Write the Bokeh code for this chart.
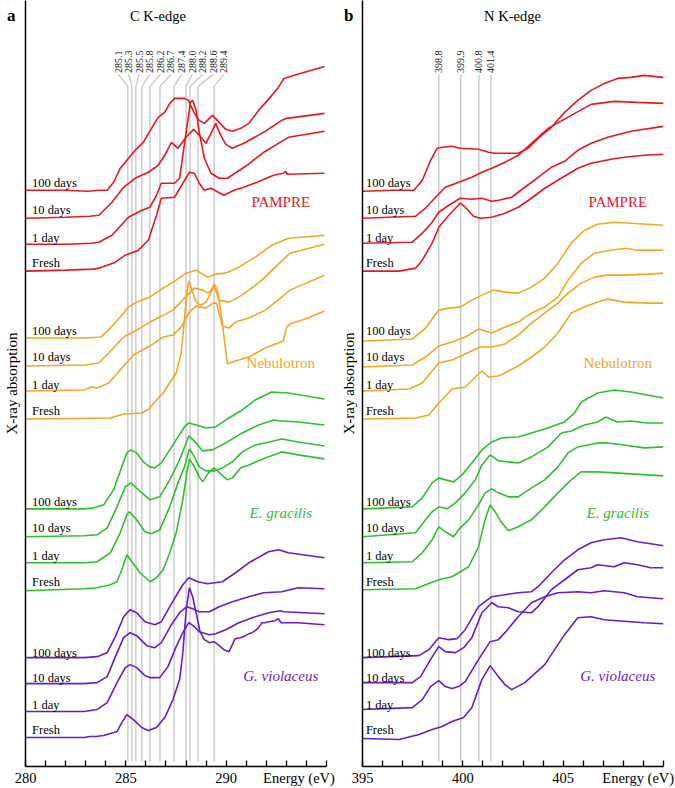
import math
from bokeh.plotting import figure
from bokeh.models import Range1d, FixedTicker, Label
from bokeh.layouts import row
from bokeh.embed import file_html
from bokeh.resources import INLINE

# ---------------- data : C K-edge (energy eV, stacked absorption a.u.) ----------------
c_pampre_100 = [(280.0,5.77),(282.0,5.77),(283.1,5.76),(283.66,5.77),(284.07,5.77),(284.39,5.85),(284.72,5.99),(285.05,6.07),(285.46,6.17),(285.87,6.25),(286.28,6.39),(286.61,6.50),(286.94,6.55),(287.19,6.64),(287.43,6.69),(287.92,6.69),(288.12,6.67),(288.42,6.54),(288.66,6.47),(288.91,6.44),(289.32,6.52),(289.65,6.45),(289.98,6.38),(290.31,6.36),(290.72,6.39),(291.13,6.44),(291.70,6.59),(292.19,6.70),(292.60,6.80),(292.88,6.89),(293.51,6.93),(294.90,7.01)]
c_pampre_10 = [(280.0,5.49),(282.0,5.50),(283.2,5.51),(283.66,5.52),(284.31,5.65),(284.89,5.80),(285.46,5.89),(286.12,5.95),(286.61,6.02),(286.94,6.12),(287.27,6.25),(287.60,6.19),(288.00,6.30),(288.38,6.38),(288.66,6.32),(288.99,6.24),(289.24,6.34),(289.48,6.44),(289.73,6.32),(289.98,6.23),(290.31,6.19),(290.88,6.24),(291.86,6.35),(292.77,6.47),(293.01,6.49),(294.90,6.54)]
c_pampre_1 = [(280.0,5.23),(282.0,5.23),(283.3,5.24),(283.66,5.25),(284.31,5.32),(285.13,5.50),(285.79,5.57),(286.20,5.60),(286.53,5.72),(286.77,5.84),(287.43,5.84),(287.68,5.89),(287.96,6.29),(288.22,6.65),(288.33,6.67),(288.50,6.57),(288.66,6.35),(288.91,6.09),(289.24,5.94),(289.65,5.89),(290.06,5.89),(291.04,6.02),(291.87,6.15),(292.69,6.25),(293.10,6.30),(294.90,6.36)]
c_pampre_fresh = [(280.0,4.96),(282.0,4.97),(283.4,4.98),(283.66,4.99),(284.48,5.05),(284.97,5.12),(285.63,5.17),(286.12,5.27),(286.53,5.52),(286.77,5.69),(287.43,5.70),(287.84,5.84),(288.17,5.95),(288.42,5.94),(288.66,5.84),(288.91,5.77),(289.24,5.79),(289.89,5.72),(290.39,5.77),(290.88,5.80),(291.54,5.85),(292.36,5.92),(292.85,5.94),(292.95,5.96),(293.05,5.93),(294.90,5.94)]

c_neb_100 = [(280.0,4.29),(283.0,4.29),(283.75,4.30),(284.23,4.39),(284.72,4.50),(285.13,4.60),(285.54,4.65),(286.20,4.70),(286.86,4.79),(287.51,4.87),(288.01,4.94),(288.50,4.97),(289.07,4.90),(289.48,4.93),(289.98,4.94),(290.63,5.00),(291.45,5.10),(292.28,5.22),(293.10,5.29),(294.90,5.32)]
c_neb_10 = [(280.0,4.01),(283.0,4.02),(283.65,4.04),(284.15,4.14),(284.89,4.30),(285.54,4.37),(286.20,4.45),(286.69,4.50),(287.35,4.57),(287.92,4.69),(288.42,4.79),(288.83,4.77),(289.12,4.74),(289.40,4.81),(289.65,4.67),(290.14,4.65),(290.63,4.70),(291.13,4.77),(291.78,4.87),(292.44,5.00),(293.18,5.14),(294.90,5.23)]
c_neb_1 = [(280.0,3.76),(282.92,3.77),(283.3,3.80),(283.57,3.79),(284.15,3.84),(284.72,3.97),(285.38,4.12),(286.20,4.21),(286.86,4.30),(287.35,4.32),(287.76,4.40),(288.17,4.55),(288.50,4.61),(288.99,4.59),(289.35,4.64),(289.52,4.64),(289.81,4.41),(290.14,4.39),(290.47,4.45),(291.13,4.49),(291.95,4.57),(292.77,4.70),(293.18,4.77),(294.90,4.92)]
c_neb_fresh = [(280.0,3.48),(284.23,3.49),(284.89,3.53),(285.79,3.54),(286.15,3.58),(286.53,3.67),(286.86,3.74),(287.51,3.94),(287.76,4.14),(287.92,4.47),(288.04,4.74),(288.14,4.86),(288.33,4.75),(288.50,4.65),(288.74,4.62),(288.99,4.65),(289.24,4.74),(289.40,4.83),(289.57,4.77),(289.81,4.44),(290.06,4.03),(290.31,4.05),(291.13,4.10),(291.95,4.19),(292.85,4.26),(293.01,4.40),(293.18,4.43),(294.08,4.49),(294.90,4.56)]

c_eg_100 = [(280.0,2.58),(282.92,2.58),(283.41,2.59),(283.90,2.62),(284.39,2.77),(284.80,3.00),(285.05,3.14),(285.25,3.17),(285.54,3.14),(285.87,3.05),(286.20,3.00),(286.45,2.99),(286.77,3.04),(287.19,3.17),(287.60,3.30),(287.92,3.40),(288.14,3.44),(288.50,3.42),(288.99,3.39),(289.48,3.40),(290.14,3.49),(290.80,3.57),(291.45,3.67),(292.27,3.75),(293.10,3.74),(294.90,3.68)]
c_eg_10 = [(280.0,2.30),(282.92,2.31),(283.57,2.32),(284.07,2.39),(284.56,2.60),(284.97,2.80),(285.25,2.84),(285.63,2.77),(286.20,2.67),(286.69,2.70),(287.19,2.87),(287.68,3.07),(288.14,3.31),(288.50,3.24),(288.83,3.16),(289.32,3.17),(289.98,3.24),(290.80,3.34),(291.62,3.42),(292.36,3.47),(292.77,3.46),(293.59,3.45),(294.90,3.42)]
c_eg_1 = [(280.0,2.04),(282.92,2.04),(283.57,2.05),(284.23,2.14),(284.72,2.34),(285.05,2.52),(285.18,2.55),(285.54,2.47),(285.95,2.35),(286.28,2.33),(286.69,2.37),(287.19,2.60),(287.60,2.84),(287.92,3.00),(288.17,3.18),(288.42,3.10),(288.66,3.00),(288.99,2.96),(289.40,2.96),(289.81,2.99),(290.31,3.05),(290.80,3.15),(291.45,3.22),(291.95,3.24),(292.77,3.28),(293.59,3.25),(294.90,3.21)]
c_eg_fresh = [(280.0,1.76),(282.92,1.78),(283.57,1.79),(284.23,1.82),(284.56,1.85),(284.80,1.97),(285.05,2.12),(285.30,2.05),(285.71,1.94),(286.20,1.85),(286.53,1.89),(286.86,1.97),(287.19,2.14),(287.51,2.34),(287.84,2.67),(288.01,2.90),(288.17,3.08),(288.42,3.00),(288.66,2.90),(288.83,2.85),(289.12,2.94),(289.40,2.99),(289.73,2.93),(290.06,2.87),(290.31,2.89),(290.72,2.99),(291.13,3.02),(291.95,3.09),(292.77,3.15),(293.59,3.12),(294.90,3.08)]

c_gv_100 = [(280.0,1.09),(282.92,1.09),(283.57,1.10),(284.07,1.14),(284.48,1.30),(284.89,1.50),(285.21,1.57),(285.54,1.54),(285.95,1.45),(286.45,1.42),(286.77,1.45),(287.19,1.60),(287.60,1.74),(287.84,1.82),(288.14,1.89),(288.58,1.85),(289.07,1.83),(289.81,1.85),(290.47,1.94),(291.13,2.04),(292.11,2.15),(292.61,2.17),(293.10,2.14),(294.90,2.09)]
c_gv_10 = [(280.0,0.83),(282.92,0.83),(283.57,0.84),(284.07,0.90),(284.48,1.10),(284.89,1.29),(285.21,1.34),(285.54,1.31),(286.04,1.21),(286.45,1.19),(286.77,1.24),(287.27,1.42),(287.68,1.54),(288.04,1.60),(288.33,1.58),(288.66,1.55),(289.16,1.55),(289.65,1.60),(290.31,1.65),(291.13,1.70),(291.87,1.74),(292.77,1.75),(293.59,1.79),(294.90,1.78)]
c_gv_1 = [(280.0,0.55),(282.92,0.55),(283.57,0.57),(284.07,0.64),(284.56,0.84),(284.97,0.99),(285.21,1.02),(285.54,0.99),(285.95,0.91),(286.20,0.89),(286.69,0.89),(287.10,1.00),(287.51,1.20),(287.84,1.34),(288.14,1.44),(288.42,1.40),(288.66,1.35),(289.16,1.32),(289.48,1.33),(289.98,1.37),(290.63,1.44),(291.45,1.50),(292.11,1.54),(292.69,1.56),(292.85,1.55),(294.90,1.53)]
c_gv_fresh = [(280.0,0.29),(281.5,0.29),(282.92,0.29),(283.2,0.30),(283.5,0.30),(283.90,0.31),(284.56,0.35),(284.80,0.44),(285.05,0.52),(285.38,0.47),(285.79,0.39),(286.12,0.36),(286.53,0.39),(286.94,0.49),(287.35,0.67),(287.68,0.87),(287.84,1.14),(288.01,1.57),(288.17,1.79),(288.33,1.70),(288.50,1.54),(288.70,1.35),(288.91,1.27),(289.16,1.24),(289.40,1.25),(289.65,1.21),(289.89,1.17),(290.14,1.15),(290.31,1.22),(290.44,1.28),(290.72,1.29),(290.96,1.31),(291.13,1.33),(291.29,1.34),(291.45,1.36),(291.62,1.39),(291.78,1.44),(291.91,1.44),(292.11,1.45),(292.44,1.46),(292.60,1.48),(292.73,1.44),(293.59,1.44),(294.90,1.42)]

# ---------------- data : N K-edge ----------------
n_pampre_100 = [(395.0,5.76),(396.5,5.77),(397.56,5.77),(397.98,5.87),(398.39,6.07),(398.72,6.19),(398.97,6.20),(399.46,6.21),(399.87,6.19),(400.78,6.18),(401.28,6.15),(401.61,6.14),(402.76,6.14),(403.26,6.19),(403.75,6.29),(404.41,6.40),(405.07,6.55),(405.73,6.67),(406.39,6.77),(407.05,6.84),(407.71,6.89),(408.37,6.90),(409.03,6.92),(410.0,6.90)]
n_pampre_10 = [(395.0,5.49),(397.65,5.51),(398.14,5.59),(398.64,5.70),(399.13,5.80),(399.79,5.85),(400.45,5.90),(400.95,5.95),(401.44,5.99),(402.10,6.05),(402.76,6.12),(403.42,6.24),(404.25,6.39),(405.40,6.52),(406.39,6.63),(407.55,6.66),(408.70,6.65),(410.0,6.64)]
n_pampre_1 = [(395.0,5.24),(397.48,5.25),(397.98,5.34),(398.47,5.45),(398.80,5.55),(399.30,5.62),(399.87,5.69),(400.45,5.68),(400.95,5.69),(401.44,5.66),(401.77,5.67),(402.43,5.70),(403.09,5.80),(403.75,5.90),(404.41,6.00),(405.07,6.06),(405.73,6.17),(406.39,6.24),(407.22,6.30),(408.37,6.36),(410.0,6.41)]
n_pampre_fresh = [(395.0,4.96),(396.82,4.96),(397.65,4.99),(397.98,5.07),(398.47,5.24),(398.80,5.40),(399.30,5.52),(399.87,5.64),(400.12,5.60),(400.53,5.51),(400.86,5.49),(401.44,5.50),(402.10,5.54),(402.76,5.60),(403.42,5.69),(404.08,5.79),(404.90,5.89),(405.73,5.99),(406.39,6.04),(407.38,6.08),(408.04,6.10),(409.03,6.12),(410.0,6.13)]

n_neb_100 = [(395.0,4.26),(397.48,4.28),(398.14,4.39),(398.80,4.57),(399.30,4.59),(399.87,4.60),(400.45,4.67),(400.95,4.72),(401.52,4.77),(402.10,4.75),(402.76,4.74),(403.42,4.80),(404.08,4.89),(404.74,5.04),(405.40,5.24),(406.06,5.37),(406.72,5.43),(407.55,5.45),(408.37,5.44),(410.0,5.42)]
n_neb_10 = [(395.0,4.00),(397.48,4.02),(398.14,4.10),(398.80,4.21),(399.46,4.25),(400.12,4.30),(400.78,4.38),(401.44,4.34),(402.10,4.40),(402.76,4.45),(403.42,4.54),(404.08,4.60),(404.74,4.70),(405.24,4.87),(405.90,5.04),(406.56,5.14),(407.38,5.17),(408.12,5.19),(408.70,5.17),(410.0,5.17)]
n_neb_1 = [(395.0,3.76),(397.32,3.78),(397.98,3.84),(398.80,4.04),(399.46,4.07),(400.12,4.13),(400.86,4.20),(401.44,4.20),(402.10,4.23),(402.76,4.32),(403.42,4.44),(404.08,4.54),(404.74,4.64),(405.24,4.74),(405.90,4.84),(406.56,4.90),(407.22,4.92),(408.04,4.92),(409.20,4.93),(410.0,4.94)]
n_neb_fresh = [(395.0,3.48),(397.65,3.49),(398.31,3.52),(398.80,3.64),(399.05,3.69),(399.46,3.78),(400.12,3.80),(400.62,3.90),(400.95,3.96),(401.28,3.90),(401.77,3.91),(402.10,3.94),(402.76,4.01),(403.42,4.10),(404.08,4.20),(404.74,4.34),(405.40,4.54),(406.06,4.60),(406.72,4.65),(407.22,4.68),(408.04,4.65),(409.20,4.64),(410.0,4.64)]

n_eg_100 = [(395.0,2.58),(397.48,2.60),(397.98,2.69),(398.47,2.84),(398.80,2.89),(399.13,2.87),(399.54,2.85),(399.96,2.92),(400.45,3.04),(400.95,3.17),(401.44,3.25),(401.93,3.29),(402.76,3.30),(403.42,3.34),(404.08,3.38),(405.07,3.45),(405.57,3.54),(405.90,3.65),(406.72,3.74),(407.55,3.77),(408.37,3.75),(410.0,3.69)]
n_eg_10 = [(395.0,2.30),(397.65,2.34),(398.14,2.47),(398.47,2.55),(398.80,2.60),(399.21,2.58),(399.63,2.64),(400.12,2.74),(400.62,2.87),(400.95,3.02),(401.36,3.12),(401.77,3.06),(402.27,3.05),(402.76,3.04),(403.42,3.10),(404.25,3.20),(404.91,3.34),(405.40,3.36),(406.06,3.42),(406.72,3.45),(407.13,3.50),(407.71,3.45),(408.37,3.46),(409.20,3.44),(410.0,3.44)]
n_eg_1 = [(395.0,2.04),(397.48,2.05),(397.98,2.14),(398.47,2.27),(398.80,2.40),(399.21,2.34),(399.54,2.30),(399.87,2.39),(400.29,2.47),(400.78,2.62),(401.11,2.74),(401.44,2.78),(401.77,2.74),(402.27,2.70),(402.76,2.70),(403.42,2.79),(404.08,2.87),(404.74,3.00),(405.24,3.14),(405.73,3.20),(406.72,3.24),(407.22,3.24),(408.04,3.22),(409.03,3.19),(410.0,3.20)]
n_eg_fresh = [(395.0,1.77),(397.65,1.78),(398.14,1.82),(398.80,1.87),(399.46,1.90),(400.29,2.00),(400.78,2.20),(401.11,2.47),(401.36,2.62),(401.61,2.55),(401.94,2.44),(402.27,2.36),(402.76,2.40),(403.42,2.47),(404.08,2.60),(404.74,2.74),(405.40,2.87),(405.90,2.95),(406.72,2.95),(407.55,2.94),(408.37,2.93),(410.0,2.91)]

n_gv_100 = [(395.0,1.09),(397.81,1.11),(398.31,1.17),(398.80,1.29),(399.30,1.27),(399.71,1.28),(400.12,1.37),(400.78,1.60),(401.44,1.70),(402.10,1.72),(402.76,1.74),(403.42,1.75),(403.75,1.80),(404.41,1.94),(405.07,2.07),(405.73,2.17),(406.39,2.24),(407.05,2.27),(407.88,2.29),(408.70,2.25),(409.36,2.23),(410.0,2.21)]
n_gv_10 = [(395.0,0.84),(397.48,0.84),(397.89,0.90),(398.39,1.07),(398.80,1.20),(399.13,1.15),(399.63,1.14),(400.04,1.19),(400.45,1.29),(400.95,1.54),(401.44,1.64),(401.77,1.60),(402.27,1.59),(402.76,1.55),(403.42,1.54),(403.75,1.60),(404.41,1.77),(405.07,1.87),(405.73,1.97),(406.39,1.99),(406.72,2.02),(407.55,2.00),(408.04,2.04),(408.70,2.02),(409.36,1.99),(410.0,1.99)]
n_gv_1 = [(395.0,0.57),(397.48,0.59),(397.98,0.67),(398.39,0.80),(398.80,0.86),(399.13,0.80),(399.46,0.78),(399.79,0.80),(400.12,0.85),(400.78,1.07),(401.36,1.25),(401.77,1.27),(402.10,1.34),(402.76,1.50),(403.42,1.64),(404.08,1.70),(404.74,1.74),(405.73,1.75),(406.39,1.74),(407.05,1.76),(408.04,1.74),(408.70,1.70),(410.0,1.68)]
n_gv_fresh = [(395.0,0.28),(396.82,0.27),(397.81,0.32),(398.47,0.37),(398.97,0.40),(399.46,0.45),(400.04,0.49),(400.45,0.59),(400.95,0.87),(401.36,1.01),(401.77,0.90),(402.10,0.82),(402.43,0.77),(403.09,0.84),(404.08,1.02),(404.74,1.22),(405.07,1.32),(405.73,1.49),(406.39,1.50),(407.05,1.47),(407.71,1.46),(408.37,1.45),(409.03,1.44),(410.0,1.43)]

c_peaks = [285.1, 285.3, 285.5, 285.8, 286.2, 286.7, 287.4, 288.0, 288.2, 288.6, 289.4]
n_peaks = [398.8, 399.9, 400.8, 401.4]

ages = ["100 days", "10 days", "1 day", "Fresh"]
samples = ["PAMPRE", "Nebulotron", "E. gracilis", "G. violaceus"]
age_label_levels = [[5.84, 5.57, 5.29, 5.04], [4.36, 4.10, 3.82, 3.56],
                    [2.65, 2.39, 2.11, 1.85], [1.14, 0.89, 0.62, 0.37]]
sample_label_levels = [5.65, 4.04, 2.54, 0.91]

# ---------------- style ----------------
FONT = "Liberation Serif"
COLORS = ["#e8191e", "#f6a623", "#2dc22d", "#6a1bd0"]
ITALIC = [False, False, True, True]
GRAY = "#c9c9c9"

c_curves = [[c_pampre_100, c_pampre_10, c_pampre_1, c_pampre_fresh],
            [c_neb_100, c_neb_10, c_neb_1, c_neb_fresh],
            [c_eg_100, c_eg_10, c_eg_1, c_eg_fresh],
            [c_gv_100, c_gv_10, c_gv_1, c_gv_fresh]]
n_curves = [[n_pampre_100, n_pampre_10, n_pampre_1, n_pampre_fresh],
            [n_neb_100, n_neb_10, n_neb_1, n_neb_fresh],
            [n_eg_100, n_eg_10, n_eg_1, n_eg_fresh],
            [n_gv_100, n_gv_10, n_gv_1, n_gv_fresh]]


def make_panel(x0, x1, width, bl, br, curves, peaks, spread, letter, title, title_x,
               energy_x, age_dx, letter_standoff):
    p = figure(width=width, height=788, x_range=Range1d(x0, x1), y_range=Range1d(0, 7.67),
               output_backend="svg", toolbar_location=None,
               min_border_left=bl, min_border_right=br, min_border_top=0, min_border_bottom=21)
    p.outline_line_color = None
    p.grid.visible = False
    p.background_fill_color = "white"
    p.border_fill_color = "white"

    # left axis: panel letter as its only tick label, plus axis title
    ya = p.yaxis[0]
    ya.ticker = FixedTicker(ticks=[7.52])
    ya.major_label_overrides = {7.52: letter}
    ya.major_label_text_font = FONT
    ya.major_label_text_font_size = "17px"
    ya.major_label_text_font_style = "bold"
    ya.major_label_text_color = "black"
    ya.major_label_standoff = letter_standoff
    ya.major_tick_line_color = None
    ya.minor_tick_line_color = None
    ya.major_tick_in = 0
    ya.major_tick_out = 0
    ya.axis_line_width = 1.5
    ya.axis_line_color = "black"
    ya.axis_label = "X-ray absorption"
    ya.axis_label_text_font = FONT
    ya.axis_label_text_font_size = "15px"
    ya.axis_label_text_font_style = "normal"
    ya.axis_label_text_color = "black"
    ya.axis_label_standoff = -16

    # bottom axis: ticks every 1 eV (drawn as minor ticks), labels every 5 eV + axis name
    xa = p.xaxis[0]
    majors = [x0, x0 + 5, x0 + 10, energy_x]
    xa.ticker = FixedTicker(ticks=majors, minor_ticks=[x0 + k for k in range(0, 16)])
    xa.major_label_overrides = {x0: str(x0), x0 + 5: str(x0 + 5), x0 + 10: str(x0 + 10),
                                energy_x: "Energy (eV)"}
    xa.axis_line_width = 1.5
    xa.axis_line_color = "black"
    xa.major_tick_in = 0
    xa.major_tick_out = 0
    xa.minor_tick_in = 6
    xa.minor_tick_out = 0
    xa.minor_tick_line_width = 1.3
    xa.minor_tick_line_color = "black"
    xa.major_label_standoff = 3
    xa.major_label_text_font = FONT
    xa.major_label_text_font_size = "14.5px"
    xa.major_label_text_color = "black"

    # reference energies with leader lines
    n = len(peaks)
    mid = (peaks[0] + peaks[-1]) / 2.0
    xs, ys, lab_x = [], [], []
    for i, e in enumerate(peaks):
        lx = mid + (i - (n - 1) / 2.0) * spread if spread else e
        lab_x.append(lx)
        xs.append([lx, e, e])
        ys.append([6.93, 6.81 if spread else 6.90, 0.05])
    p.multi_line(xs, ys, line_color=GRAY, line_width=1.4)
    for lx, e in zip(lab_x, peaks):
        p.add_layout(Label(x=lx, y=6.945, text=f"{e:.1f}", angle=math.pi / 2,
                           text_align="left", text_baseline="middle",
                           text_font=FONT, text_font_size="10px", text_color="#222222"))

    # spectra and their labels
    for g, group in enumerate(curves):
        for c in group:
            p.line([q[0] for q in c], [q[1] for q in c], line_color=COLORS[g], line_width=1.6)
        for k, lev in enumerate(age_label_levels[g]):
            p.add_layout(Label(x=x0 + age_dx, y=lev, text=ages[k], text_align="left",
                               text_baseline="middle", text_font=FONT,
                               text_font_size="12.5px", text_color="black"))
        p.add_layout(Label(x=x0 + 12.72, y=sample_label_levels[g], text=samples[g],
                           text_align="center", text_baseline="middle", text_font=FONT,
                           text_font_size="15px",
                           text_font_style="italic" if ITALIC[g] else "normal",
                           text_color=COLORS[g]))

    p.add_layout(Label(x=title_x, y=751, x_units="screen", y_units="screen", text=title,
                       text_align="center", text_baseline="middle", text_font=FONT,
                       text_font_size="14.5px", text_color="black"))
    return p


p1 = make_panel(280, 295, 338, 21, 12, c_curves, c_peaks, 0.527, "a", "C K-edge", 132.5,
                293.63, 0.33, 10)
p2 = make_panel(395, 410, 337, 22, 12, n_curves, n_peaks, 0, "b", "N K-edge", 150,
                408.74, 0.17, 9)

layout = row(p1, p2)
open("out.html", "w").write(file_html(layout, INLINE))
